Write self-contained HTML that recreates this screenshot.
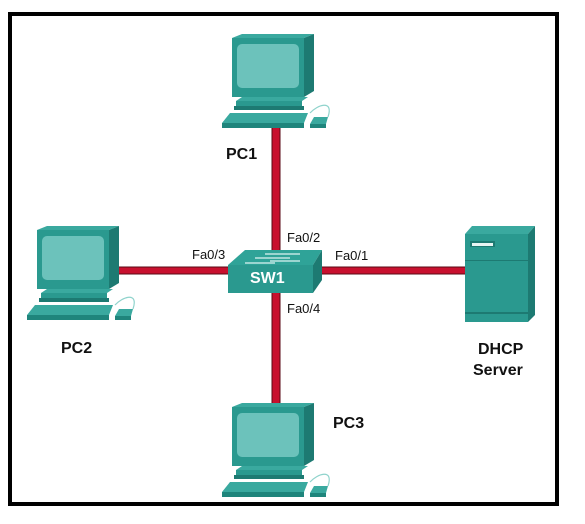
<!DOCTYPE html>
<html><head><style>
html,body{margin:0;padding:0;background:#fff;}
body{width:585px;height:524px;overflow:hidden;position:relative;font-family:"Liberation Sans",Arial,sans-serif;}
.t{position:absolute;font-size:13px;color:#111;}
.b{position:absolute;font-weight:bold;font-size:16px;color:#111;}
</style></head><body>
<svg width="585" height="524" style="position:absolute;left:0;top:0">
<defs>
<g id="pc">
  <!-- monitor top & side -->
  <polygon points="10,5 20,1 92,1 82,5" fill="#3aa99f"/>
  <polygon points="82,5 92,1 92,58 82,64" fill="#1d7a72"/>
  <rect x="10" y="5" width="72" height="59" fill="#2a998f"/>
  <rect x="15" y="11" width="62" height="44" rx="5" fill="#6cc2bb"/>
  <!-- base -->
  <polygon points="14,68 80,68 86,64 20,64" fill="#3aa99f"/>
  <rect x="14" y="68" width="66" height="5" fill="#2a998f"/>
  <rect x="12" y="73" width="70" height="4" fill="#1d7a72"/>
  <!-- keyboard -->
  <polygon points="8,80 86,80 82,90 0,90" fill="#3aa99f"/>
  <rect x="0" y="90" width="82" height="5" fill="#1f857c"/>
  <!-- mouse -->
  <path d="M88,80 C95,72 112,66 106,84" stroke="#8fd3cc" stroke-width="1.2" fill="none"/>
  <polygon points="92,84 106,84 104,91 88,91" fill="#3aa99f"/>
  <rect x="88" y="91" width="16" height="4" fill="#1f857c"/>
</g>
</defs>
<rect x="10" y="14" width="547" height="490" fill="none" stroke="#000" stroke-width="4"/>
<!-- links -->
<rect x="272" y="125" width="8" height="285" fill="#c8102e" stroke="#5a0a14" stroke-width="1"/>
<rect x="118" y="267" width="350" height="7" fill="#c8102e" stroke="#5a0a14" stroke-width="1"/>
<!-- PCs -->
<use href="#pc" x="222" y="33"/>
<use href="#pc" x="27" y="225"/>
<use href="#pc" x="222" y="402"/>
<!-- switch -->
<polygon points="228,265 245,250 322,250 313,265" fill="#2fa398"/>
<polygon points="313,265 322,250 322,280 313,293" fill="#1d7a72"/>
<rect x="228" y="265" width="85" height="28" fill="#2a998f"/>
<g stroke="#bfe6e2" stroke-width="1.5">
<line x1="265" y1="254" x2="300" y2="254"/><line x1="255" y1="258" x2="290" y2="258"/>
<line x1="270" y1="261" x2="300" y2="261"/><line x1="245" y1="263" x2="275" y2="263"/>
</g>
<!-- server -->
<polygon points="465,234 472,226 535,226 528,234" fill="#3aa99f"/>
<polygon points="528,234 535,226 535,315 528,322" fill="#1d7a72"/>
<rect x="465" y="234" width="63" height="88" fill="#2a998f"/>
<rect x="465" y="260" width="63" height="1" fill="#1d7a72"/>
<rect x="465" y="312" width="63" height="2" fill="#1d7a72"/>
<rect x="470" y="241" width="25" height="6" fill="#1d7a72"/>
<rect x="472" y="243" width="21" height="3" fill="#e8f5f3"/>
</svg>
<div class="b" style="left:226px;top:146px">PC1</div>
<div class="b" style="left:61px;top:340px">PC2</div>
<div class="b" style="left:333px;top:415px">PC3</div>
<div class="b" style="left:478px;top:341px">DHCP</div>
<div class="b" style="left:473px;top:362px">Server</div>
<div class="b" style="left:250px;top:270px;color:#fff">SW1</div>
<div class="t" style="left:287px;top:230px">Fa0/2</div>
<div class="t" style="left:192px;top:247px">Fa0/3</div>
<div class="t" style="left:335px;top:248px">Fa0/1</div>
<div class="t" style="left:287px;top:301px">Fa0/4</div>
</body></html>
